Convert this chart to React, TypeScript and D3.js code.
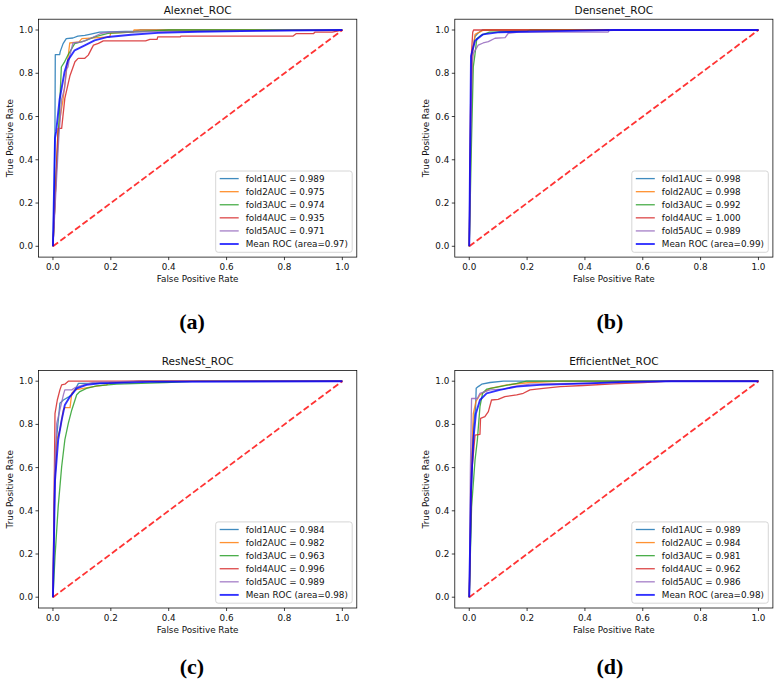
import React from "react";
import * as d3 from "d3";

type Pt = [number, number];

// ---------- DATA ----------
const panelTitles = ["Alexnet_ROC", "Densenet_ROC", "ResNeSt_ROC", "EfficientNet_ROC"];
const panelTags = ["(a)", "(b)", "(c)", "(d)"];
const ticks = [0, 0.2, 0.4, 0.6, 0.8, 1.0];
const tickLabels = ["0.0", "0.2", "0.4", "0.6", "0.8", "1.0"];

const alexAUC = ["0.989", "0.975", "0.974", "0.935", "0.971"];
const alexMean = "0.97";
const denseAUC = ["0.998", "0.998", "0.992", "1.000", "0.989"];
const denseMean = "0.99";
const resAUC = ["0.984", "0.982", "0.963", "0.996", "0.989"];
const resMean = "0.98";
const effAUC = ["0.989", "0.984", "0.981", "0.962", "0.986"];
const effMean = "0.98";

const alexFold1: Pt[] = [[0,0],[0.005,0.3],[0.007,0.57],[0.008,0.886],[0.023,0.886],[0.025,0.9],[0.035,0.937],[0.046,0.96],[0.069,0.963],[0.086,0.972],[0.11,0.975],[0.127,0.98],[0.161,0.99],[0.28,0.995],[0.3,1],[1,1]];
const alexFold2: Pt[] = [[0,0],[0.01,0.3],[0.017,0.53],[0.035,0.68],[0.05,0.85],[0.058,0.94],[0.09,0.945],[0.1,0.96],[0.196,0.968],[0.2,0.986],[0.277,0.99],[0.28,1],[1,1]];
const alexFold3: Pt[] = [[0,0],[0.01,0.3],[0.02,0.55],[0.029,0.829],[0.039,0.85],[0.05,0.88],[0.075,0.937],[0.11,0.95],[0.144,0.968],[0.19,0.985],[0.3,0.993],[0.4,1],[1,1]];
const alexFold4: Pt[] = [[0,0],[0.01,0.3],[0.018,0.545],[0.03,0.545],[0.041,0.684],[0.059,0.79],[0.076,0.853],[0.087,0.869],[0.11,0.869],[0.122,0.884],[0.134,0.915],[0.14,0.93],[0.157,0.938],[0.174,0.95],[0.32,0.95],[0.335,0.957],[0.36,0.957],[0.362,0.968],[0.44,0.968],[0.442,0.972],[0.83,0.972],[0.84,0.983],[0.9,0.983],[0.905,0.99],[0.965,0.99],[1,1]];
const alexFold5: Pt[] = [[0,0],[0.01,0.25],[0.02,0.5],[0.03,0.68],[0.04,0.73],[0.047,0.82],[0.052,0.83],[0.058,0.88],[0.069,0.94],[0.1,0.945],[0.133,0.963],[0.167,0.985],[0.2,0.99],[0.6,0.995],[0.9,1],[1,1]];
const alexMeanRoc: Pt[] = [[0,0],[0.007,0.5],[0.011,0.53],[0.023,0.68],[0.04,0.806],[0.052,0.86],[0.075,0.906],[0.11,0.929],[0.144,0.952],[0.19,0.968],[0.27,0.978],[0.363,0.987],[0.5,0.992],[0.7,0.996],[1,1]];

const denseFold1: Pt[] = [[0,0],[0.005,0.6],[0.01,0.9],[0.02,0.97],[0.03,0.985],[0.045,1],[1,1]];
const denseFold2: Pt[] = [[0,0],[0.006,0.55],[0.012,0.9],[0.02,0.98],[0.035,0.99],[0.05,1],[1,1]];
const denseFold3: Pt[] = [[0,0],[0.008,0.5],[0.014,0.83],[0.02,0.89],[0.026,0.96],[0.04,0.975],[0.07,0.99],[0.2,0.995],[0.21,1],[1,1]];
const denseFold4: Pt[] = [[0,0],[0.004,0.6],[0.008,0.9],[0.012,0.99],[0.015,1],[1,1]];
const denseFold5: Pt[] = [[0,0],[0.006,0.6],[0.01,0.85],[0.014,0.892],[0.031,0.93],[0.048,0.94],[0.066,0.946],[0.089,0.962],[0.124,0.965],[0.135,0.985],[0.17,0.99],[0.48,0.99],[0.485,1],[1,1]];
const denseMeanRoc: Pt[] = [[0,0],[0.006,0.88],[0.02,0.95],[0.048,0.98],[0.105,0.99],[0.3,0.995],[0.5,1],[1,1]];

const resFold1: Pt[] = [[0,0],[0.006,0.5],[0.013,0.743],[0.024,0.898],[0.036,0.913],[0.053,0.926],[0.065,0.937],[0.076,0.96],[0.088,0.99],[0.2,0.99],[0.3,1],[1,1]];
const resFold2: Pt[] = [[0,0],[0.006,0.5],[0.013,0.73],[0.024,0.774],[0.036,0.867],[0.041,0.878],[0.059,0.878],[0.065,0.944],[0.076,0.96],[0.105,0.967],[0.14,0.975],[0.185,0.983],[0.197,0.994],[0.3,1],[1,1]];
const resFold3: Pt[] = [[0,0],[0.007,0.186],[0.018,0.418],[0.03,0.604],[0.041,0.728],[0.053,0.805],[0.065,0.867],[0.082,0.937],[0.093,0.952],[0.116,0.967],[0.151,0.978],[0.22,0.986],[0.39,0.994],[0.5,1],[1,1]];
const resFold4: Pt[] = [[0,0],[0.005,0.6],[0.007,0.85],[0.015,0.913],[0.024,0.96],[0.03,0.983],[0.041,0.986],[0.053,1],[1,1]];
const resFold5: Pt[] = [[0,0],[0.006,0.6],[0.013,0.805],[0.024,0.867],[0.036,0.937],[0.041,0.96],[0.065,0.96],[0.076,0.97],[0.105,0.983],[0.14,0.994],[0.3,1],[1,1]];
const resMeanRoc: Pt[] = [[0,0],[0.007,0.54],[0.018,0.728],[0.03,0.82],[0.041,0.89],[0.059,0.929],[0.082,0.967],[0.116,0.983],[0.162,0.99],[0.335,0.997],[1,1]];

const effFold1: Pt[] = [[0,0],[0.008,0.5],[0.015,0.8],[0.022,0.88],[0.024,0.967],[0.031,0.975],[0.043,0.986],[0.072,0.994],[0.118,1],[1,1]];
const effFold2: Pt[] = [[0,0],[0.007,0.6],[0.014,0.85],[0.023,0.906],[0.037,0.937],[0.072,0.967],[0.13,0.983],[0.21,0.994],[0.325,1],[1,1]];
const effFold3: Pt[] = [[0,0],[0.008,0.418],[0.02,0.635],[0.028,0.728],[0.037,0.882],[0.046,0.944],[0.06,0.963],[0.106,0.975],[0.164,0.99],[0.198,1],[1,1]];
const effFold4: Pt[] = [[0,0],[0.008,0.573],[0.02,0.75],[0.037,0.754],[0.039,0.828],[0.054,0.836],[0.066,0.859],[0.077,0.913],[0.1,0.916],[0.123,0.929],[0.164,0.937],[0.187,0.944],[0.21,0.96],[0.256,0.967],[0.314,0.975],[0.394,0.98],[0.498,0.988],[0.602,0.994],[0.694,1],[1,1]];
const effFold5: Pt[] = [[0,0],[0.004,0.6],[0.008,0.92],[0.028,0.92],[0.037,0.944],[0.072,0.96],[0.118,0.963],[0.152,0.975],[0.21,0.986],[0.53,0.994],[0.7,1],[1,1]];
const effMeanRoc: Pt[] = [[0,0],[0.006,0.5],[0.014,0.728],[0.023,0.85],[0.037,0.913],[0.06,0.944],[0.106,0.96],[0.164,0.975],[0.245,0.983],[0.418,0.99],[0.533,0.997],[0.7,1],[1,1]];

const diagonal: Pt[] = [[0, 0], [1, 1]];

const foldColors = ["#1f77b4", "#ff7f0e", "#2ca02c", "#d62728", "#9467bd"];

const panels = [
  { title: panelTitles[0], tag: panelTags[0], folds: [alexFold1, alexFold2, alexFold3, alexFold4, alexFold5], mean: alexMeanRoc, auc: alexAUC, meanArea: alexMean },
  { title: panelTitles[1], tag: panelTags[1], folds: [denseFold1, denseFold2, denseFold3, denseFold4, denseFold5], mean: denseMeanRoc, auc: denseAUC, meanArea: denseMean },
  { title: panelTitles[2], tag: panelTags[2], folds: [resFold1, resFold2, resFold3, resFold4, resFold5], mean: resMeanRoc, auc: resAUC, meanArea: resMean },
  { title: panelTitles[3], tag: panelTags[3], folds: [effFold1, effFold2, effFold3, effFold4, effFold5], mean: effMeanRoc, auc: effAUC, meanArea: effMean },
];

// ---------- LAYOUT ----------
const boxes = [
  { l: 38.5, r: 356.8, t: 19.2, b: 257.1, tagX: 192, tagY: 328.5 },
  { l: 454.8, r: 772.9, t: 19.2, b: 257.1, tagX: 610, tagY: 328.5 },
  { l: 38.5, r: 356.8, t: 370.4, b: 608.0, tagX: 192, tagY: 673.5 },
  { l: 454.8, r: 772.9, t: 370.4, b: 608.0, tagX: 610, tagY: 673.5 },
];

const FONT = "'DejaVu Sans', sans-serif";
const fs = 8.8;

function Panel({ p, box }: { p: typeof panels[0]; box: typeof boxes[0] }) {
  const x = d3.scaleLinear().domain([-0.05, 1.05]).range([box.l, box.r]);
  const y = d3.scaleLinear().domain([-0.05, 1.05]).range([box.b, box.t]);
  const line = d3.line<Pt>().x((d) => x(d[0])).y((d) => y(d[1]));
  const cx = (box.l + box.r) / 2;
  const cy = (box.t + box.b) / 2;

  const legW = 136.5;
  const legH = 81.3;
  const legR = box.r - 4.6;
  const legB = box.b - 4.8;
  const legL = legR - legW;
  const legT = legB - legH;
  const labels = [
    ...p.auc.map((a, i) => `fold${i + 1}AUC = ${a}`),
    `Mean ROC (area=${p.meanArea})`,
  ];
  const legColors = [...foldColors, "#0000ff"];

  return (
    <g>
      <defs>
        <clipPath id={`clip-${p.tag}`}>
          <rect x={box.l} y={box.t} width={box.r - box.l} height={box.b - box.t} />
        </clipPath>
      </defs>
      <g clipPath={`url(#clip-${p.tag})`}>
        {p.folds.map((f, i) => (
          <path key={i} d={line(f) || ""} fill="none" stroke={foldColors[i]} strokeOpacity={0.85} strokeWidth={1.3} strokeLinejoin="round" />
        ))}
        <path d={line(diagonal) || ""} fill="none" stroke="#ff0000" strokeOpacity={0.8} strokeWidth={1.8} strokeDasharray="6.4,2.8" />
        <path d={line(p.mean) || ""} fill="none" stroke="#0000ff" strokeOpacity={0.8} strokeWidth={1.9} strokeLinejoin="round" />
      </g>
      <rect x={box.l} y={box.t} width={box.r - box.l} height={box.b - box.t} fill="none" stroke="#000" strokeWidth={0.75} />
      {ticks.map((t, i) => (
        <g key={"x" + i}>
          <line x1={x(t)} x2={x(t)} y1={box.b} y2={box.b + 3} stroke="#000" strokeWidth={0.75} />
          <text x={x(t)} y={box.b + 12.8} fontSize={fs} fontFamily={FONT} textAnchor="middle" fill="#111">{tickLabels[i]}</text>
        </g>
      ))}
      {ticks.map((t, i) => (
        <g key={"y" + i}>
          <line x1={box.l - 3} x2={box.l} y1={y(t)} y2={y(t)} stroke="#000" strokeWidth={0.75} />
          <text x={box.l - 5.5} y={y(t)} dy="0.35em" fontSize={fs} fontFamily={FONT} textAnchor="end" fill="#111">{tickLabels[i]}</text>
        </g>
      ))}
      <text x={cx} y={box.t - 5} fontSize={10.5} fontFamily={FONT} textAnchor="middle" fill="#111">{p.title}</text>
      <text x={cx} y={box.b + 24.5} fontSize={fs} fontFamily={FONT} textAnchor="middle" fill="#111">False Positive Rate</text>
      <text transform={`translate(${box.l - 25.5},${cy}) rotate(-90)`} fontSize={fs} fontFamily={FONT} textAnchor="middle" fill="#111">True Positive Rate</text>
      <rect x={legL} y={legT} width={legW} height={legH} rx={2.5} fill="#fff" fillOpacity={0.8} stroke="#cccccc" strokeWidth={0.8} />
      {labels.map((lab, i) => {
        const ly = legT + 7.6 + i * 13.08;
        return (
          <g key={"l" + i}>
            <line x1={legL + 4} x2={legL + 23} y1={ly} y2={ly} stroke={legColors[i]} strokeOpacity={i < 5 ? 0.85 : 0.8} strokeWidth={i < 5 ? 1.3 : 1.9} />
            <text x={legL + 30} y={ly} dy="0.35em" fontSize={fs} fontFamily={FONT} fill="#111">{lab}</text>
          </g>
        );
      })}
      <text x={box.tagX} y={box.tagY} fontSize={22} fontWeight="bold" fontFamily="'Liberation Serif', 'Times New Roman', serif" textAnchor="middle" fill="#000">{p.tag}</text>
    </g>
  );
}

export default function App() {
  return (
    <svg width={779} height={681} style={{ position: "absolute", left: 0, top: 0, background: "#fff" }}>
      <rect width={779} height={681} fill="#fff" />
      {panels.map((p, i) => (
        <Panel key={i} p={p} box={boxes[i]} />
      ))}
    </svg>
  );
}
